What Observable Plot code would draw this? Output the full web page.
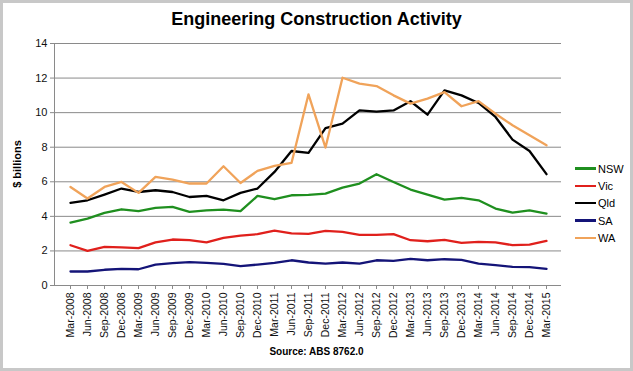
<!DOCTYPE html>
<html>
<head>
<meta charset="utf-8">
<script src="https://cdn.jsdelivr.net/npm/d3@7"></script>
<script src="https://cdn.jsdelivr.net/npm/@observablehq/plot@0.6"></script>
<style>
  html, body { margin: 0; padding: 0; background: #fff; }
  #wrap { position: relative; width: 633px; height: 371px; font-family: "Liberation Sans", Arial, sans-serif; overflow: hidden; }
  #border { position: absolute; left: 0; top: 0; width: 633px; height: 371px; box-sizing: border-box; border: 3px solid #c8c8c8; pointer-events: none; }
  #title { position: absolute; left: 0; top: 9px; width: 633px; text-align: center; font-weight: bold; font-size: 18px; color: #000; }
  #chart { position: absolute; left: 0; top: 30px; }
  #ylabel { position: absolute; left: 17px; top: 164px; transform: translate(-50%, -50%) rotate(-90deg); font-weight: bold; font-size: 11px; white-space: nowrap; color: #000; }
  #caption { position: absolute; left: 0; top: 346px; width: 633px; text-align: center; font-weight: bold; font-size: 10px; color: #000; }
  #legend { position: absolute; left: 575px; top: 160px; font-size: 11px; color: #000; }
  .item { height: 17.3px; display: flex; align-items: center; }
  .sw { width: 21px; height: 2.5px; margin-right: 2px; }
</style>
</head>
<body>
<div id="wrap">
  <div id="title">Engineering Construction Activity</div>
  <div id="chart"></div>
  <div id="ylabel">$ billions</div>
  <div id="caption">Source: ABS 8762.0</div>
  <div id="legend"></div>
  <div id="border"></div>
</div>
<script>
const quarters = ["Mar-2008","Jun-2008","Sep-2008","Dec-2008","Mar-2009","Jun-2009","Sep-2009","Dec-2009",
  "Mar-2010","Jun-2010","Sep-2010","Dec-2010","Mar-2011","Jun-2011","Sep-2011","Dec-2011",
  "Mar-2012","Jun-2012","Sep-2012","Dec-2012","Mar-2013","Jun-2013","Sep-2013","Dec-2013",
  "Mar-2014","Jun-2014","Sep-2014","Dec-2014","Mar-2015"];
const seriesNames = ["NSW","Vic","Qld","SA","WA"];
const seriesColors = ["#1f8f1f","#e0201c","#000000","#141478","#f0a35a"];
const nsw = [3.64,3.87,4.20,4.41,4.30,4.49,4.55,4.26,4.35,4.39,4.30,5.18,4.99,5.22,5.24,5.32,5.66,5.90,6.44,5.99,5.55,5.26,4.97,5.07,4.93,4.45,4.22,4.34,4.16];
const vic = [2.33,2.00,2.24,2.20,2.16,2.49,2.66,2.62,2.50,2.76,2.89,2.97,3.18,3.02,2.99,3.16,3.10,2.93,2.93,2.97,2.62,2.56,2.64,2.47,2.52,2.50,2.33,2.37,2.58];
const qld = [4.78,4.93,5.26,5.61,5.41,5.51,5.41,5.12,5.18,4.93,5.36,5.61,6.57,7.78,7.67,9.11,9.36,10.13,10.06,10.13,10.66,9.88,11.29,11.00,10.56,9.75,8.44,7.78,6.44];
const sa  = [0.81,0.81,0.91,0.96,0.94,1.21,1.29,1.35,1.31,1.25,1.12,1.21,1.31,1.46,1.33,1.27,1.33,1.27,1.46,1.43,1.54,1.46,1.52,1.48,1.27,1.18,1.08,1.06,0.96];
const wa  = [5.70,5.03,5.70,5.99,5.36,6.28,6.13,5.90,5.90,6.90,5.93,6.63,6.92,7.09,11.06,7.98,12.02,11.68,11.54,11.00,10.52,10.81,11.19,10.37,10.67,9.94,9.27,8.69,8.11];
const yTicks = [0,2,4,6,8,10,12,14];

const seriesValues = [nsw, vic, qld, sa, wa];
const rows = seriesNames.flatMap((name, s) => seriesValues[s].map((v, i) => ({q: quarters[i], v, name})));

const chart = Plot.plot({
  width: 633,
  height: 310,
  marginLeft: 54,
  marginRight: 72,
  marginTop: 13,
  marginBottom: 55,
  style: {fontFamily: "'Liberation Sans', Arial, sans-serif", fontSize: "11px", color: "#111", background: "transparent", overflow: "visible"},
  x: {type: "point", domain: quarters, padding: 0.16, label: null},
  y: {domain: [0, 14], label: null},
  color: {domain: seriesNames, range: seriesColors},
  marks: [
    Plot.gridY(yTicks, {stroke: "#8a8a8a", strokeOpacity: 1, strokeWidth: 1}),
    Plot.axisY(yTicks, {tickSize: 4, tickPadding: 3, label: null, stroke: "#8a8a8a", fill: "#111"}),
    Plot.frame({anchor: "left", stroke: "#8a8a8a"}),
    Plot.axisX({tickRotate: -90, tickSize: 4, tickPadding: 3, label: null, stroke: "#8a8a8a", fill: "#111", fontSize: 10.5}),
    Plot.ruleY([0], {stroke: "#8a8a8a"}),
    Plot.line(rows, {x: "q", y: "v", z: "name", stroke: "name", strokeWidth: 2.3, curve: "linear"})
  ]
});
document.getElementById("chart").appendChild(chart);

const legend = document.getElementById("legend");
seriesNames.forEach((name, i) => {
  const d = document.createElement("div");
  d.className = "item";
  d.innerHTML = `<span class="sw" style="background:${seriesColors[i]}"></span><span>${name}</span>`;
  legend.appendChild(d);
});
</script>
</body>
</html>
